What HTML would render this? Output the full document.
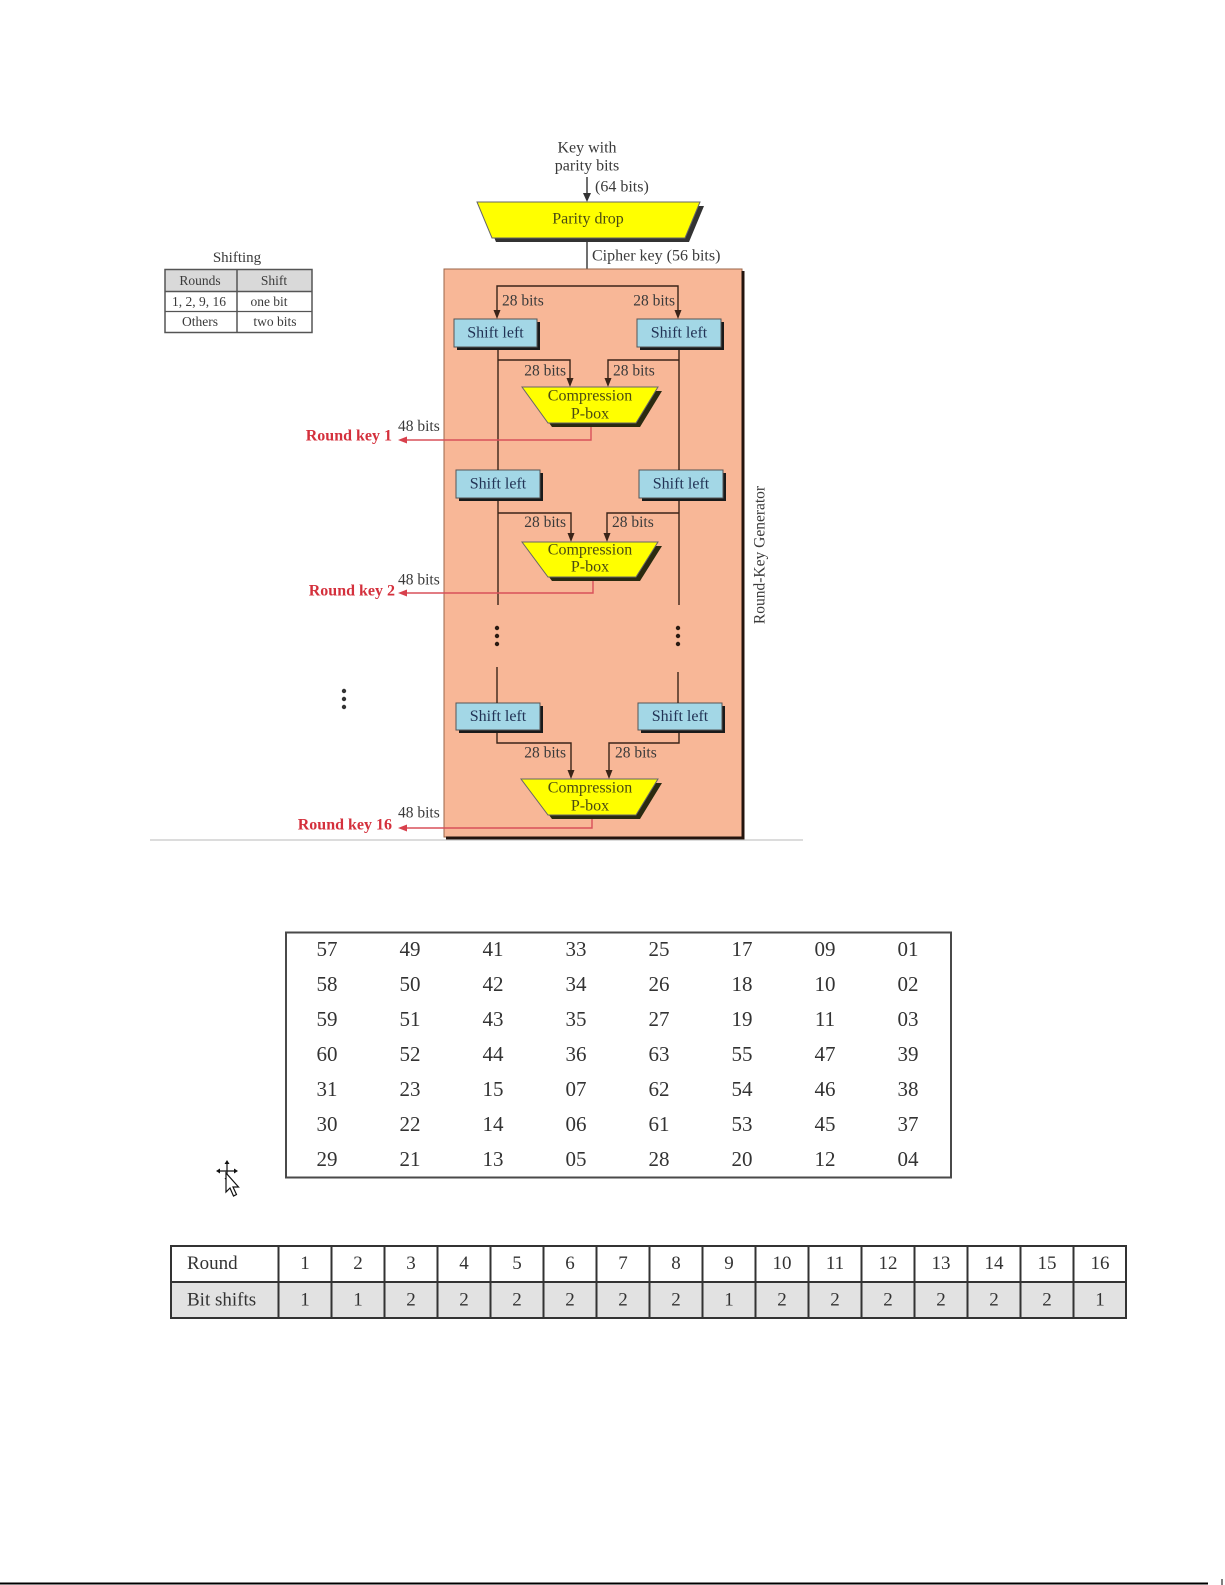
<!DOCTYPE html>
<html>
<head>
<meta charset="utf-8">
<style>
  html,body{margin:0;padding:0;background:#fff;}
  svg{display:block;}
  text{font-family:"Liberation Serif","DejaVu Serif",serif;}
</style>
</head>
<body>
<svg width="1225" height="1585" viewBox="0 0 1225 1585" xmlns="http://www.w3.org/2000/svg">
  <rect x="0" y="0" width="1225" height="1585" fill="#ffffff"/>

  <!-- faint original image edge -->
  <line x1="150" y1="840" x2="803" y2="840" stroke="#dcdcdc" stroke-width="2"/>

  <!-- ===== Shifting table ===== -->
  <text x="237" y="258" font-size="15" fill="#3a3a3a" text-anchor="middle" dominant-baseline="central">Shifting</text>
  <rect x="165" y="269.5" width="147" height="22" fill="#d9d9d9"/>
  <rect x="165" y="269.5" width="147" height="63" fill="none" stroke="#555" stroke-width="1.5"/>
  <line x1="165" y1="291.5" x2="312" y2="291.5" stroke="#555" stroke-width="1.5"/>
  <line x1="165" y1="311.5" x2="312" y2="311.5" stroke="#555" stroke-width="1.2"/>
  <line x1="237" y1="269.5" x2="237" y2="332.5" stroke="#555" stroke-width="1.5"/>
  <g font-size="13.5" fill="#3a3a3a" text-anchor="middle" dominant-baseline="central">
    <text x="200" y="280.5">Rounds</text>
    <text x="274" y="280.5">Shift</text>
    <text x="199" y="301.5">1, 2, 9, 16</text>
    <text x="269" y="301.5">one bit</text>
    <text x="200" y="321.5">Others</text>
    <text x="275" y="321.5">two bits</text>
  </g>

  <!-- ===== Top: key input ===== -->
  <g font-size="16" fill="#3a3a3a">
    <text x="587" y="148" text-anchor="middle" dominant-baseline="central">Key with</text>
    <text x="587" y="166" text-anchor="middle" dominant-baseline="central">parity bits</text>
    <text x="595" y="187" dominant-baseline="central">(64 bits)</text>
  </g>
  <line x1="587" y1="177" x2="587" y2="195" stroke="#333" stroke-width="1.4"/>
  <polygon points="583,193 591,193 587,202" fill="#333"/>

  <!-- Parity drop -->
  <polygon points="481,206 704,206 689,242 496,242" fill="#333"/>
  <polygon points="477,202 700,202 685,238 492,238" fill="#ffff00" stroke="#666" stroke-width="1"/>
  <text x="588" y="219" font-size="16" fill="#4b4b12" text-anchor="middle" dominant-baseline="central">Parity drop</text>

  <!-- Cipher key line -->
  <line x1="587" y1="242" x2="587" y2="286" stroke="#333" stroke-width="1.4"/>
  <text x="592" y="256" font-size="16" fill="#3a3a3a" dominant-baseline="central">Cipher key (56 bits)</text>

  <!-- ===== Salmon Round-Key Generator box ===== -->
  <rect x="444" y="269" width="298" height="568" fill="#f8b797" stroke="#9a6448" stroke-width="1"/>
  <line x1="743" y1="271" x2="743" y2="839" stroke="#24140e" stroke-width="3"/>
  <line x1="446" y1="838" x2="744.5" y2="838" stroke="#24140e" stroke-width="3"/>
  <text x="0" y="0" font-size="15.5" fill="#3a3a3a" text-anchor="middle" dominant-baseline="central" transform="translate(760,555) rotate(-90)">Round-Key Generator</text>

  <!-- Split lines (after cipher key) -->
  <g stroke="#3a2418" stroke-width="1.4" fill="none">
    <polyline points="497,312 497,286 678,286 678,312"/>
  </g>
  <polygon points="493.5,310 500.5,310 497,319" fill="#3a2418"/>
  <polygon points="674.5,310 681.5,310 678,319" fill="#3a2418"/>
  <g font-size="15.5" fill="#3a3a3a" dominant-baseline="central">
    <text x="502" y="301">28 bits</text>
    <text x="675" y="301" text-anchor="end">28 bits</text>
  </g>

  <!-- ===== Shift left boxes ===== -->
  <!-- Row 1 -->
  <rect x="457" y="322" width="83" height="28" fill="#1a1a1a"/>
  <rect x="454" y="319" width="83" height="28" fill="#a3d7e6" stroke="#555" stroke-width="1"/>
  <rect x="640" y="322" width="84" height="28" fill="#1a1a1a"/>
  <rect x="637" y="319" width="84" height="28" fill="#a3d7e6" stroke="#555" stroke-width="1"/>
  <!-- Row 2 -->
  <rect x="459" y="473" width="84" height="28" fill="#1a1a1a"/>
  <rect x="456" y="470" width="84" height="28" fill="#a3d7e6" stroke="#555" stroke-width="1"/>
  <rect x="642" y="473" width="84" height="28" fill="#1a1a1a"/>
  <rect x="639" y="470" width="84" height="28" fill="#a3d7e6" stroke="#555" stroke-width="1"/>
  <!-- Row 3 -->
  <rect x="459" y="706" width="84" height="27" fill="#1a1a1a"/>
  <rect x="456" y="703" width="84" height="27" fill="#a3d7e6" stroke="#555" stroke-width="1"/>
  <rect x="641" y="706" width="84" height="27" fill="#1a1a1a"/>
  <rect x="638" y="703" width="84" height="27" fill="#a3d7e6" stroke="#555" stroke-width="1"/>
  <g font-size="16" fill="#223355" text-anchor="middle" dominant-baseline="central">
    <text x="495.5" y="333">Shift left</text>
    <text x="679" y="333">Shift left</text>
    <text x="498" y="484">Shift left</text>
    <text x="681" y="484">Shift left</text>
    <text x="498" y="716.5">Shift left</text>
    <text x="680" y="716.5">Shift left</text>
  </g>

  <!-- ===== Vertical lines & branches ===== -->
  <g stroke="#3a2418" stroke-width="1.4" fill="none">
    <!-- left column -->
    <line x1="498" y1="350" x2="498" y2="470"/>
    <line x1="498" y1="501" x2="498" y2="605"/>
    <line x1="497" y1="667" x2="497" y2="703"/>
    <!-- right column -->
    <line x1="679" y1="350" x2="679" y2="470"/>
    <line x1="679" y1="501" x2="679" y2="605"/>
    <line x1="678" y1="672" x2="678" y2="703"/>
    <!-- row1 branch -->
    <polyline points="498,360 570,360 570,379"/>
    <polyline points="679,360 608,360 608,379"/>
    <!-- row2 branch -->
    <polyline points="498,513 571,513 571,534"/>
    <polyline points="679,513 607,513 607,534"/>
    <!-- row3 branch -->
    <polyline points="497,733 497,743 571,743 571,771"/>
    <polyline points="679,733 679,743 609,743 609,771"/>
  </g>
  <g fill="#3a2418">
    <polygon points="566.5,378 573.5,378 570,387"/>
    <polygon points="604.5,378 611.5,378 608,387"/>
    <polygon points="567.5,533 574.5,533 571,542"/>
    <polygon points="603.5,533 610.5,533 607,542"/>
    <polygon points="567.5,770 574.5,770 571,779"/>
    <polygon points="605.5,770 612.5,770 609,779"/>
  </g>
  <g font-size="15.5" fill="#3a3a3a" dominant-baseline="central">
    <text x="566" y="371" text-anchor="end">28 bits</text>
    <text x="613" y="371">28 bits</text>
    <text x="566" y="522.5" text-anchor="end">28 bits</text>
    <text x="612" y="522.5">28 bits</text>
    <text x="566" y="753" text-anchor="end">28 bits</text>
    <text x="615" y="753">28 bits</text>
  </g>

  <!-- ===== Compression P-boxes ===== -->
  <polygon points="526,391 662,391 640,427 552,427" fill="#2a2a10"/>
  <polygon points="522,387 658,387 636,423 548,423" fill="#ffff00" stroke="#666" stroke-width="1"/>
  <polygon points="526,546 662,546 640,581 552,581" fill="#2a2a10"/>
  <polygon points="522,542 658,542 636,577 548,577" fill="#ffff00" stroke="#666" stroke-width="1"/>
  <polygon points="525,783 662,783 640,819 552,819" fill="#2a2a10"/>
  <polygon points="521,779 658,779 636,815 548,815" fill="#ffff00" stroke="#666" stroke-width="1"/>
  <g font-size="16" fill="#4b4b12" text-anchor="middle" dominant-baseline="central">
    <text x="590" y="396">Compression</text>
    <text x="590" y="414">P-box</text>
    <text x="590" y="550">Compression</text>
    <text x="590" y="567">P-box</text>
    <text x="590" y="788">Compression</text>
    <text x="590" y="806">P-box</text>
  </g>

  <!-- ===== Round key outputs (red) ===== -->
  <g stroke="#d8505a" stroke-width="1.4" fill="none">
    <polyline points="591,427 591,440 405,440"/>
    <polyline points="593,581 593,593 405,593"/>
    <polyline points="592,819 592,828 405,828"/>
  </g>
  <g fill="#d8404c">
    <polygon points="398,440 407,436.5 407,443.5"/>
    <polygon points="398,593 407,589.5 407,596.5"/>
    <polygon points="398,828 407,824.5 407,831.5"/>
  </g>
  <g font-size="15.5" fill="#3a3a3a" dominant-baseline="central">
    <text x="398" y="426.5">48 bits</text>
    <text x="398" y="580">48 bits</text>
    <text x="398" y="813">48 bits</text>
  </g>
  <g font-size="16" font-weight="bold" fill="#d4303c" text-anchor="end" dominant-baseline="central">
    <text x="392" y="436">Round key 1</text>
    <text x="395" y="591">Round key 2</text>
    <text x="392" y="825">Round key 16</text>
  </g>

  <!-- ===== Dots ===== -->
  <g fill="#2a1a12">
    <circle cx="497" cy="628" r="2.2"/><circle cx="497" cy="636" r="2.2"/><circle cx="497" cy="644" r="2.2"/>
    <circle cx="678" cy="628" r="2.2"/><circle cx="678" cy="636" r="2.2"/><circle cx="678" cy="644" r="2.2"/>
  </g>
  <g fill="#333">
    <circle cx="344" cy="691" r="2.2"/><circle cx="344" cy="699" r="2.2"/><circle cx="344" cy="707" r="2.2"/>
  </g>

  <!-- ===== Permutation table ===== -->
  <rect x="286" y="932.5" width="665" height="245" fill="#fff" stroke="#4a4a4a" stroke-width="2"/>
  <g font-size="21" fill="#333" text-anchor="middle" dominant-baseline="central">
    <text x="327" y="949">57</text><text x="410" y="949">49</text><text x="493" y="949">41</text><text x="576" y="949">33</text><text x="659" y="949">25</text><text x="742" y="949">17</text><text x="825" y="949">09</text><text x="908" y="949">01</text>
    <text x="327" y="984">58</text><text x="410" y="984">50</text><text x="493" y="984">42</text><text x="576" y="984">34</text><text x="659" y="984">26</text><text x="742" y="984">18</text><text x="825" y="984">10</text><text x="908" y="984">02</text>
    <text x="327" y="1019">59</text><text x="410" y="1019">51</text><text x="493" y="1019">43</text><text x="576" y="1019">35</text><text x="659" y="1019">27</text><text x="742" y="1019">19</text><text x="825" y="1019">11</text><text x="908" y="1019">03</text>
    <text x="327" y="1054">60</text><text x="410" y="1054">52</text><text x="493" y="1054">44</text><text x="576" y="1054">36</text><text x="659" y="1054">63</text><text x="742" y="1054">55</text><text x="825" y="1054">47</text><text x="908" y="1054">39</text>
    <text x="327" y="1089">31</text><text x="410" y="1089">23</text><text x="493" y="1089">15</text><text x="576" y="1089">07</text><text x="659" y="1089">62</text><text x="742" y="1089">54</text><text x="825" y="1089">46</text><text x="908" y="1089">38</text>
    <text x="327" y="1124">30</text><text x="410" y="1124">22</text><text x="493" y="1124">14</text><text x="576" y="1124">06</text><text x="659" y="1124">61</text><text x="742" y="1124">53</text><text x="825" y="1124">45</text><text x="908" y="1124">37</text>
    <text x="327" y="1159">29</text><text x="410" y="1159">21</text><text x="493" y="1159">13</text><text x="576" y="1159">05</text><text x="659" y="1159">28</text><text x="742" y="1159">20</text><text x="825" y="1159">12</text><text x="908" y="1159">04</text>
  </g>

  <!-- ===== Cursor ===== -->
  <g stroke="#111" stroke-width="1.2" fill="#111">
    <line x1="218" y1="1171" x2="236" y2="1171"/>
    <line x1="227" y1="1162" x2="227" y2="1180"/>
    <polygon points="216,1171 220,1168.5 220,1173.5" stroke="none"/>
    <polygon points="238,1171 234,1168.5 234,1173.5" stroke="none"/>
    <polygon points="227,1160 224.5,1164 229.5,1164" stroke="none"/>
    <polygon points="227,1182 224.5,1178 229.5,1178" stroke="none"/>
  </g>
  <polygon points="226,1173 226,1192 230,1188 233.5,1196 236.5,1194.5 233,1187 238.5,1187" fill="#fff" stroke="#111" stroke-width="1.2"/>

  <!-- ===== Round / Bit shifts table ===== -->
  <rect x="171" y="1282" width="955" height="36" fill="#e2e2e2"/>
  <rect x="171" y="1246" width="955" height="72" fill="none" stroke="#333" stroke-width="2"/>
  <line x1="171" y1="1282" x2="1126" y2="1282" stroke="#333" stroke-width="2"/>
  <g stroke="#333" stroke-width="2">
    <line x1="278.5" y1="1246" x2="278.5" y2="1318"/>
    <line x1="331.5" y1="1246" x2="331.5" y2="1318"/>
    <line x1="384.5" y1="1246" x2="384.5" y2="1318"/>
    <line x1="437.5" y1="1246" x2="437.5" y2="1318"/>
    <line x1="490.5" y1="1246" x2="490.5" y2="1318"/>
    <line x1="543.5" y1="1246" x2="543.5" y2="1318"/>
    <line x1="596.5" y1="1246" x2="596.5" y2="1318"/>
    <line x1="649.5" y1="1246" x2="649.5" y2="1318"/>
    <line x1="702.5" y1="1246" x2="702.5" y2="1318"/>
    <line x1="755.5" y1="1246" x2="755.5" y2="1318"/>
    <line x1="808.5" y1="1246" x2="808.5" y2="1318"/>
    <line x1="861.5" y1="1246" x2="861.5" y2="1318"/>
    <line x1="914.5" y1="1246" x2="914.5" y2="1318"/>
    <line x1="967.5" y1="1246" x2="967.5" y2="1318"/>
    <line x1="1020.5" y1="1246" x2="1020.5" y2="1318"/>
    <line x1="1073.5" y1="1246" x2="1073.5" y2="1318"/>
  </g>
  <g font-size="19" fill="#333" dominant-baseline="central">
    <text x="187" y="1263.5">Round</text>
    <text x="187" y="1300">Bit shifts</text>
  </g>
  <g font-size="19" fill="#333" text-anchor="middle" dominant-baseline="central">
    <text x="305" y="1263.5">1</text><text x="358" y="1263.5">2</text><text x="411" y="1263.5">3</text><text x="464" y="1263.5">4</text>
    <text x="517" y="1263.5">5</text><text x="570" y="1263.5">6</text><text x="623" y="1263.5">7</text><text x="676" y="1263.5">8</text>
    <text x="729" y="1263.5">9</text><text x="782" y="1263.5">10</text><text x="835" y="1263.5">11</text><text x="888" y="1263.5">12</text>
    <text x="941" y="1263.5">13</text><text x="994" y="1263.5">14</text><text x="1047" y="1263.5">15</text><text x="1100" y="1263.5">16</text>
    <text x="305" y="1300">1</text><text x="358" y="1300">1</text><text x="411" y="1300">2</text><text x="464" y="1300">2</text>
    <text x="517" y="1300">2</text><text x="570" y="1300">2</text><text x="623" y="1300">2</text><text x="676" y="1300">2</text>
    <text x="729" y="1300">1</text><text x="782" y="1300">2</text><text x="835" y="1300">2</text><text x="888" y="1300">2</text>
    <text x="941" y="1300">2</text><text x="994" y="1300">2</text><text x="1047" y="1300">2</text><text x="1100" y="1300">1</text>
  </g>

  <!-- bottom page line -->
  <line x1="0" y1="1583.5" x2="1208" y2="1583.5" stroke="#000" stroke-width="2"/>
  <line x1="1222" y1="1579" x2="1222" y2="1585" stroke="#000" stroke-width="1"/>
</svg>
</body>
</html>
